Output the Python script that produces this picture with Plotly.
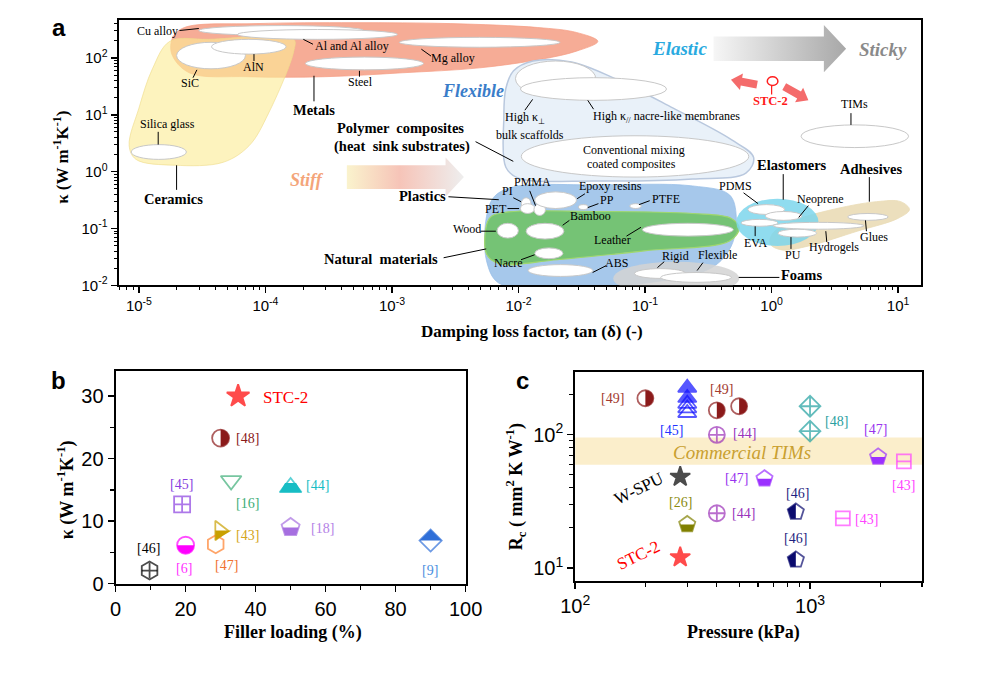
import math
import plotly.graph_objects as go

W, H = 986, 678
SERIF = "Liberation Serif"
SANS = "Liberation Sans"

# ======================= DATA =======================
# ---- Panel a : material classes (log10 tan(delta), log10 kappa) ----
metals_lt = [-4.640, -4.067, -3.301, -2.536, -1.848, -1.542, -1.373, -1.542, -1.810, -2.307, -2.919, -3.531, -4.143, -4.602, -4.740, -4.732]
metals_lk = [2.537, 2.606, 2.623, 2.606, 2.537, 2.450, 2.294, 2.121, 1.983, 1.827, 1.740, 1.671, 1.671, 1.740, 2.069, 2.364]
ceramics_lt = [-4.755, -4.449, -3.776, -3.776, -3.975, -4.128, -4.334, -4.717, -5.023, -5.077, -5.000, -4.893]
ceramics_lk = [2.294, 2.329, 2.329, 2.121, 1.030, 0.459, 0.165, 0.113, 0.216, 0.459, 1.117, 1.810]
polymer_lt = [-2.039, -1.886, -1.580, -1.236, -0.777, -0.318, -0.142, -0.203, -0.624, -1.389, -2.001, -2.100, -2.116, -2.100]
polymer_lk = [1.775, 1.948, 1.931, 1.636, 1.117, 0.563, 0.251, -0.026, -0.130, -0.165, -0.113, 0.078, 0.944, 1.463]
plastics_lt = [-2.192, -2.039, -1.389, -0.624, -0.333, -0.279, -0.318, -0.471, -1.006, -1.695, -2.154, -2.253, -2.253]
plastics_lk = [-0.442, -0.268, -0.234, -0.251, -0.407, -0.788, -1.307, -1.688, -1.965, -2.035, -1.965, -1.567, -0.788]
natural_lt = [-2.230, -2.116, -1.389, -0.624, -0.318, -0.256, -0.333, -1.006, -1.695, -2.154, -2.253]
natural_lk = [-0.823, -0.719, -0.701, -0.736, -0.823, -0.996, -1.221, -1.394, -1.550, -1.619, -1.446]
adhesives_lt = [0.004, 0.141, 0.448, 0.830, 1.021, 1.090, 0.998, 0.677, 0.295, 0.080, -0.011]
adhesives_lk = [-1.100, -0.892, -0.684, -0.528, -0.528, -0.667, -0.823, -1.048, -1.307, -1.377, -1.273]

oval_names = ["Foams", "Elastomers"]
oval_lt_lo = [-1.251, -0.279]
oval_lt_hi = [-0.256, 0.371]
oval_lk_lo = [-2.173, -1.307]
oval_lk_hi = [-1.584, -0.476]

mat_names = ["Cu alloy", "Al and Al alloy", "Mg alloy", "Steel", "SiC", "AlN", "Silica glass",
             "bulk scaffolds", "nacre-like membranes", "Conventional mixing", "PI", "PET", "PMMA",
             "Epoxy resins", "PP", "PTFE", "Wood", "Bamboo", "Leather", "Nacre", "ABS", "Rigid",
             "Flexible", "PDMS", "Neoprene", "EVA", "Hydrogels", "PU", "Glues", "TIMs"]
mat_lt_lo = [-4.526, -4.220, -2.942, -3.684, -4.702, -4.426, -5.061, -2.024, -1.985, -1.978, -1.978, -1.985, -1.878,
             -1.871, -1.526, -1.121, -2.169, -1.940, -1.021, -1.871, -1.924, -1.083, -0.876, -0.187, -0.050, -0.241,
             0.011, 0.050, 0.601, 0.233]
mat_lt_hi = [-3.225, -2.957, -1.672, -2.751, -4.158, -3.837, -4.625, -1.389, -0.830, -0.180, -1.901, -1.871, -1.787,
             -1.542, -1.450, -1.029, -2.001, -1.641, -0.302, -1.649, -1.412, -0.677, -0.318, 0.103, 0.241, 0.050,
             0.731, 0.356, 0.922, 1.083]
mat_lk_lo = [2.398, 2.329, 2.190, 1.792, 1.810, 2.069, 0.216, 1.325, 1.255, -0.095, -0.667, -0.736, -0.771,
             -0.649, -0.667, -0.649, -1.169, -1.186, -1.134, -1.532, -1.844, -1.879, -1.948, -0.753, -0.857, -0.961,
             -1.013, -1.152, -0.857, 0.424]
mat_lk_hi = [2.571, 2.502, 2.364, 2.017, 2.277, 2.329, 0.476, 1.948, 1.654, 0.632, -0.459, -0.563, -0.563,
             -0.355, -0.580, -0.563, -0.909, -0.909, -0.909, -1.342, -1.636, -1.706, -1.775, -0.580, -0.701, -0.840,
             -0.892, -1.013, -0.736, 0.823]
stc_lt = [-0.034, 0.050]
stc_lk = [1.515, 1.671]

# ---- Panel b : kappa vs filler loading ----
b_refs = ["STC-2", "[48]", "[16]", "[44]", "[45]", "[43]", "[18]", "[9]", "[6]", "[47]", "[46]"]
b_filler = [35, 30, 33, 50, 19, 29.7, 50, 90, 20, 28.6, 9.7]
b_kappa = [30.0, 23.3, 16.5, 15.4, 12.7, 8.5, 9.0, 6.9, 6.15, 6.3, 2.1]

# ---- Panel c : contact resistance vs pressure ----
c_refs = ["[49]", "[49]", "[49]", "[45]", "[45]", "[45]", "[45]", "[45]", "[44]", "[44]", "[48]", "[48]",
          "[47]", "[47]", "[43]", "[43]", "W-SPU", "[26]", "STC-2", "[46]", "[46]"]
c_pressure = [199, 401, 499, 300, 300, 300, 300, 300, 401, 401, 1000, 1000, 1950, 640, 2510, 1380, 280, 300, 280, 870, 870]
c_rc = [187, 152, 163, 224, 188, 170, 157, 145, 99.5, 25.7, 163, 106, 68, 46.7, 63, 23.5, 48.2, 21.2, 12.0, 26.3, 11.5]
tim_band = [59.3, 95.0]
tim_label_pos = [512, 73.0]

# ---- ticks ----
a_x_exp = list(range(-5, 2))
a_y_exp = list(range(-2, 3))
b_x_ticks = [0, 20, 40, 60, 80, 100]
b_y_ticks = [0, 10, 20, 30]
c_x_exp = [2, 3]
c_y_exp = [1, 2]

# ======================= STYLES =======================
b_style = [
    ("star", "#FF0000", 17, None),
    ("circle-open", "#8B1A1A", 17, "circle-right"),
    ("triangle-down-open", "#3DAE78", 18, None),
    ("triangle-up-open", "#17BDC4", 19, "triup-bottom"),
    ("square-cross-open", "#8A3FE0", 16, None),
    ("triangle-right-open", "#C9A000", 17, "triright-bottom"),
    ("pentagon-open", "#A66FE0", 19, "pent-bottom"),
    ("diamond-open", "#2F6FD8", 17, "diamond-top"),
    ("circle-open", "#FF00FF", 17, "circle-bottom"),
    ("hexagon-open", "#FF7F2A", 18, None),
    ("hexagon-open", "#000000", 18, "cross"),
]
c_style = (
    [("circle-open", "#8B1A1A", 16, "circle-right")] * 3
    + [("triangle-up", "#1010FF", 16, None)] * 2
    + [("triangle-up-open", "#1010FF", 16, None)] * 3
    + [("circle-cross-open", "#9B30B8", 16, None)] * 2
    + [("diamond-cross-open", "#20A0A0", 16, None)] * 2
    + [("pentagon-open", "#9B30FF", 17, "pent-bottom")] * 2
    + [("square-open", "#FF44FF", 14, "hline")] * 2
    + [("star", "#000000", 15, None)]
    + [("pentagon-open", "#808000", 17, "pent-bottom")]
    + [("star", "#FF0000", 15, None)]
    + [("pentagon-open", "#0A0A6E", 17, "pent-left")] * 2
)

fig = go.Figure()


def envelope(lt, lk, fill, line, lw=0.8):
    xs = [10 ** v for v in lt] + [10 ** lt[0]]
    ys = [10 ** v for v in lk] + [10 ** lk[0]]
    fig.add_trace(go.Scatter(x=xs, y=ys, xaxis="x", yaxis="y", mode="lines", fill="toself",
                             fillcolor=fill, line=dict(color=line, width=lw, shape="spline", smoothing=1.0),
                             hoverinfo="skip", showlegend=False))


envelope(metals_lt, metals_lk, "rgba(245,158,132,0.85)", "rgba(245,158,132,0.9)")
envelope(ceramics_lt, ceramics_lk, "rgba(252,236,150,0.62)", "rgba(240,220,140,0.8)")
envelope(polymer_lt, polymer_lk, "rgba(228,237,248,0.8)", "rgba(185,200,222,1)", 1.5)
envelope(plastics_lt, plastics_lk, "rgba(150,190,232,0.85)", "rgba(150,190,232,0.9)")
envelope(natural_lt, natural_lk, "rgba(112,194,104,0.9)", "rgba(160,215,110,1)", 1.2)
envelope(adhesives_lt, adhesives_lk, "rgba(234,220,182,0.9)", "rgba(234,220,182,1)")

shapes = []
oval_colors = ["rgba(212,212,212,0.85)", "rgba(125,214,236,0.85)"]
for i, nm in enumerate(oval_names):
    shapes.append(dict(type="circle", xref="x", yref="y", x0=10 ** oval_lt_lo[i], x1=10 ** oval_lt_hi[i],
                       y0=10 ** oval_lk_lo[i], y1=10 ** oval_lk_hi[i], fillcolor=oval_colors[i],
                       line=dict(width=0)))
for i, nm in enumerate(mat_names):
    shapes.append(dict(type="circle", xref="x", yref="y", x0=10 ** mat_lt_lo[i], x1=10 ** mat_lt_hi[i],
                       y0=10 ** mat_lk_lo[i], y1=10 ** mat_lk_hi[i], fillcolor="white",
                       line=dict(color="rgb(200,200,200)", width=1)))
shapes.append(dict(type="circle", xref="x", yref="y", x0=10 ** stc_lt[0], x1=10 ** stc_lt[1],
                   y0=10 ** stc_lk[0], y1=10 ** stc_lk[1], fillcolor="white", line=dict(color="#FF2020", width=1.5)))

# Commercial TIMs band (panel c)
shapes.append(dict(type="rect", xref="x3 domain", yref="y3", x0=0, x1=1, y0=tim_band[0], y1=tim_band[1],
                   fillcolor="rgba(248,224,160,0.55)", line=dict(width=0), layer="below"))


# ---------------- half filled marker helpers ----------------
def half_path(kind, size):
    r = size / 2.0
    k = 0.5523 * r
    if kind == "circle-right":
        return f"M0,{r:.2f} C{k:.2f},{r:.2f} {r:.2f},{k:.2f} {r:.2f},0 C{r:.2f},{-k:.2f} {k:.2f},{-r:.2f} 0,{-r:.2f} Z"
    if kind == "circle-bottom":
        return f"M{-r:.2f},0 C{-r:.2f},{-k:.2f} {-k:.2f},{-r:.2f} 0,{-r:.2f} C{k:.2f},{-r:.2f} {r:.2f},{-k:.2f} {r:.2f},0 Z"
    if kind == "triup-bottom":
        rt = r * 2 / math.sqrt(3)
        ym = (-0.5 * r + r * math.sqrt(2)) / 2
        return f"M{-rt:.2f},{-0.5*r:.2f} L{rt:.2f},{-0.5*r:.2f} L{rt/2:.2f},{ym:.2f} L{-rt/2:.2f},{ym:.2f} Z"
    if kind == "triright-bottom":
        rt = r * 2 / math.sqrt(3)
        rs = r * math.sqrt(2)
        return f"M{-0.5*r:.2f},0 L{rs:.2f},0 L{-0.5*r:.2f},{-rt:.2f} Z"
    if kind == "pent-bottom":
        return f"M{-0.851*r:.2f},0 L{0.851*r:.2f},0 L{0.588*r:.2f},{-0.809*r:.2f} L{-0.588*r:.2f},{-0.809*r:.2f} Z"
    if kind == "pent-left":
        return f"M0,{r:.2f} L{-0.951*r:.2f},{0.309*r:.2f} L{-0.588*r:.2f},{-0.809*r:.2f} L0,{-0.809*r:.2f} Z"
    if kind == "diamond-top":
        rd = 1.3 * r
        return f"M{-rd:.2f},0 L0,{rd:.2f} L{rd:.2f},0 Z"
    return None


def add_markers(xs, ys, styles, xa, ya):
    fig.add_trace(go.Scatter(
        x=xs, y=ys, xaxis=xa, yaxis=ya, mode="markers", hoverinfo="skip", showlegend=False, cliponaxis=False,
        marker=dict(symbol=[s[0] for s in styles], color=[s[1] for s in styles], size=[s[2] for s in styles],
                    line=dict(width=1.8, color=[s[1] for s in styles]))))
    ox, oy, osym, ocol, osz = [], [], [], [], []
    for x, y, s in zip(xs, ys, styles):
        extra = s[3]
        if extra == "cross":
            ox.append(x); oy.append(y); osym.append("cross-thin-open"); ocol.append(s[1]); osz.append(s[2] * 0.62)
        elif extra == "hline":
            ox.append(x); oy.append(y); osym.append("line-ew-open"); ocol.append(s[1]); osz.append(s[2] / 1.4)
        elif extra:
            shapes.append(dict(type="path", xref=xa, yref=ya, xsizemode="pixel", ysizemode="pixel",
                               xanchor=x, yanchor=y, path=half_path(extra, s[2]), fillcolor=s[1],
                               line=dict(width=0)))
    if ox:
        fig.add_trace(go.Scatter(x=ox, y=oy, xaxis=xa, yaxis=ya, mode="markers", hoverinfo="skip",
                                 showlegend=False,
                                 marker=dict(symbol=osym, color=ocol, size=osz, line=dict(width=1.8, color=ocol))))


add_markers(b_filler, b_kappa, b_style, "x2", "y2")
add_markers(c_pressure, c_rc, c_style, "x3", "y3")


# ---------------- decorations in pixel space (x4/y4) ----------------
def block_arrow(tail, tip, bw, hw, hl):
    dx, dy = tip[0] - tail[0], tip[1] - tail[1]
    L = math.hypot(dx, dy)
    ux, uy = dx / L, dy / L
    nx, ny = -uy, ux
    bx, by = tip[0] - ux * hl, tip[1] - uy * hl
    pts = [(tail[0] + nx * bw, tail[1] + ny * bw), (bx + nx * bw, by + ny * bw), (bx + nx * hw, by + ny * hw),
           tip, (bx - nx * hw, by - ny * hw), (bx - nx * bw, by - ny * bw), (tail[0] - nx * bw, tail[1] - ny * bw)]
    pts.append(pts[0])
    return [p[0] for p in pts], [p[1] for p in pts]


ax_, ay_ = block_arrow((722, 49.5), (859, 49.5), 12.5, 24, 23)
fig.add_trace(go.Scatter(x=ax_, y=ay_, xaxis="x4", yaxis="y4", mode="lines", fill="toself", line=dict(width=0),
                         fillgradient=dict(type="horizontal", colorscale=[[0, "rgb(246,246,246)"], [1, "rgb(168,168,168)"]]),
                         hoverinfo="skip", showlegend=False))
ax_, ay_ = block_arrow((343, 180), (464, 180), 12, 20, 19)
fig.add_trace(go.Scatter(x=ax_, y=ay_, xaxis="x4", yaxis="y4", mode="lines", fill="toself", line=dict(width=0),
                         fillgradient=dict(type="horizontal", colorscale=[[0, "rgb(250,243,205)"], [0.45, "rgb(246,196,184)"], [1, "rgb(238,238,238)"]]),
                         hoverinfo="skip", showlegend=False))
for tail, tip in [((767, 86), (740, 81)), ((795, 88), (820, 102))]:
    ax_, ay_ = block_arrow(tail, tip, 4, 8.5, 11)
    fig.add_trace(go.Scatter(x=ax_, y=ay_, xaxis="x4", yaxis="y4", mode="lines", fill="toself",
                             fillcolor="#F46B6B", line=dict(width=0), hoverinfo="skip", showlegend=False))

annotations = []


def lab(text, x, y, size=12, color="black", bold=False, italic=False, family=SERIF, angle=0):
    t = text
    if bold:
        t = f"<b>{t}</b>"
    if italic:
        t = f"<i>{t}</i>"
    annotations.append(dict(text=t, x=x, y=y, xref="x4", yref="y4", showarrow=False, xanchor="center",
                            yanchor="middle", textangle=angle, font=dict(family=family, size=size, color=color)))


small_labels = [("Cu alloy", 147, 31), ("Al and Al alloy", 348, 47), ("Mg alloy", 453, 59), ("Steel", 357, 83),
                ("SiC", 181, 84), ("AlN", 247, 68), ("Silica glass", 158, 126), ("High κ<sub>⊥</sub>", 527, 120),
                ("bulk scaffolds", 532, 137), ("High κ<sub>//</sub> nacre-like membranes", 673, 119),
                ("Conventional mixing", 640, 152), ("coated composites", 637, 167), ("PI", 509, 194),
                ("PMMA", 535, 185), ("PET", 497, 212), ("Epoxy resins", 615, 189), ("PP", 612, 203),
                ("PTFE", 673, 202), ("Wood", 467, 233), ("Bamboo", 595, 220), ("Leather", 618, 244),
                ("Nacre", 510, 267), ("ABS", 622, 267), ("Rigid", 683, 260), ("Flexible", 726, 259),
                ("PDMS", 745, 189), ("Neoprene", 833, 202), ("EVA", 765, 247), ("PU", 804, 259),
                ("Hydrogels", 846, 251), ("Glues", 888, 241), ("TIMs", 868, 106)]
for t, x, y in small_labels:
    lab(t, x, y, 12)
bold_labels = [("Metals", 309, 112), ("Ceramics", 164, 202), ("Polymer  composites", 398, 130),
               ("(heat  sink substrates)", 400, 149), ("Plastics", 421, 199), ("Natural  materials", 378, 263),
               ("Foams", 813, 280), ("Elastomers", 803, 168), ("Adhesives", 885, 172)]
for t, x, y in bold_labels:
    lab(t, x, y, 14.5, bold=True)
lab("STC-2", 781, 103, 12.5, "#FF1A1A", bold=True)
lab("Elastic", 687, 49, 19, "#2AAAE0", bold=True, italic=True)
lab("Sticky", 897, 50, 19, "#8A8A8A", bold=True, italic=True)
lab("Flexible", 473, 93, 18, "#3A7DC9", bold=True, italic=True)
lab("Stiff", 302, 183, 18, "#F4A57A", bold=True, italic=True)

leaders = [(170, 31, 190, 29), (298, 40, 308, 45), (420, 50, 430, 57), (356, 72, 356, 78), (309, 77, 309, 103),
           (188, 71, 184, 79), (247, 55, 247, 62), (148, 134, 148, 147), (167, 168, 167, 193), (476, 144, 515, 164),
           (535, 101, 527, 112), (592, 102, 598, 111), (448, 200, 500, 203), (515, 201, 523, 205),
           (532, 194, 538, 209), (509, 212, 521, 212), (589, 197, 581, 202), (592, 211, 603, 207),
           (645, 208, 656, 204), (481, 235, 497, 235), (566, 229, 573, 224), (632, 240, 647, 231),
           (523, 264, 537, 259), (597, 277, 611, 270), (443, 262, 487, 253), (664, 272, 671, 266),
           (705, 275, 711, 267), (748, 282, 790, 282), (753, 196, 768, 207), (794, 177, 794, 203),
           (820, 209, 810, 221), (765, 230, 765, 240), (802, 241, 802, 253), (838, 235, 839, 246),
           (879, 224, 880, 235), (883, 180, 883, 205), (864, 115, 864, 127)]
for x0, y0, x1, y1 in leaders:
    shapes.append(dict(type="line", xref="x4", yref="y4", x0=x0, y0=y0, x1=x1, y1=y1,
                       line=dict(color="black", width=1)))
shapes.append(dict(type="line", xref="x4", yref="y4", x0=782, y0=87, x1=782, y1=96,
                   line=dict(color="#FF1A1A", width=1.2)))

# panel b labels
b_labels = [("STC-2", 280, 404, "#FF0000", 17), ("[48]", 240, 446, "#8B1A1A", 14), ("[45]", 172, 492, "#8A3FE0", 14),
            ("[16]", 240, 512, "#3DAE78", 14), ("[44]", 313, 493, "#17BDC4", 14), ("[43]", 240, 544, "#D4A520", 14),
            ("[18]", 318, 537, "#B482E6", 14), ("[46]", 138, 558, "#000000", 14), ("[6]", 175, 578, "#FF33FF", 14),
            ("[47]", 219, 575, "#F07030", 14), ("[9]", 429, 580, "#4A8FE0", 14)]
for t, x, y, c, s in b_labels:
    lab(t, x, y, s, c)
# panel c labels
c_labels = [("[49]", 618, 405, "#A33A2F"), ("[49]", 730, 396, "#A33A2F"), ("[45]", 679, 438, "#2233FF"),
            ("[44]", 754, 441, "#9933BB"), ("[48]", 849, 428, "#2AA0A0"), ("[47]", 889, 437, "#9933EE"),
            ("[43]", 918, 493, "#FF44FF"), ("[47]", 746, 486, "#9933EE"), ("[26]", 688, 511, "#8B8B10"),
            ("[44]", 753, 522, "#9933BB"), ("[46]", 809, 502, "#1F1F80"), ("[43]", 880, 528, "#FF44FF"),
            ("[46]", 807, 547, "#1F1F80")]
for t, x, y, c in c_labels:
    lab(t, x, y, 14, c)
lab("W-SPU", 645, 497, 17, "black", angle=-26)
lab("STC-2", 644, 565, 17, "#FF0000", angle=-26)
annotations.append(dict(text="<i>Commercial TIMs</i>", x=math.log10(tim_label_pos[0]), y=math.log10(tim_label_pos[1]),
                        xref="x3", yref="y3", showarrow=False, font=dict(family=SERIF, size=19, color="#C9A030")))

# axis titles and panel letters
lab("Damping loss factor, tan (δ) (-)", 534, 337, 17, bold=True)
lab("κ (W m<sup>-1</sup>K<sup>-1</sup>)", 48, 160, 17, bold=True, angle=-90)
lab("Filler loading (%)", 287, 643, 18, bold=True)
lab("κ (W m<sup>-1</sup>K<sup>-1</sup>)", 53, 498, 18, bold=True, angle=-90)
lab("Pressure (kPa)", 753, 643, 18, bold=True)
lab("R<sub>c</sub> ( mm<sup>2</sup> K W<sup>-1</sup>)", 518, 495, 18, bold=True, angle=-90)
lab("a", 45, 28, 24, bold=True, family=SANS)
lab("b", 45, 387, 24, bold=True, family=SANS)
lab("c", 525, 387, 24, bold=True, family=SANS)


# ======================= AXES =======================
def frame(**kw):
    d = dict(showline=True, linewidth=2, linecolor="black", mirror=True, showgrid=False, zeroline=False,
             ticks="outside", tickcolor="black", tickwidth=1.5, ticklen=6)
    d.update(kw)
    return d


def logminor(lo, hi):
    return [k * 10 ** e for e in range(lo, hi) for k in range(2, 10)]


tf_a = dict(family=SANS, size=15, color="black")
tf_bc = dict(family=SANS, size=20, color="black")
layout_axes = dict(
    xaxis=frame(domain=[107 / W, 936 / W], type="log", range=[-5.161, 1.178], anchor="y",
                tickvals=[10 ** e for e in a_x_exp], ticktext=[f"10<sup>{e}</sup>" for e in a_x_exp],
                minor=dict(tickvals=logminor(-6, 2), ticks="outside", ticklen=3, tickwidth=1, tickcolor="black"),
                tickfont=tf_a),
    yaxis=frame(domain=[1 - 290 / H, 1 - 20 / H], type="log", range=[-2, 2.675], anchor="x",
                tickvals=[10 ** e for e in a_y_exp], ticktext=[f"10<sup>{e}</sup>" for e in a_y_exp],
                minor=dict(tickvals=logminor(-2, 3), ticks="outside", ticklen=3, tickwidth=1, tickcolor="black"),
                tickfont=tf_a),
    xaxis2=frame(domain=[104 / W, 465.7 / W], range=[0, 100], anchor="y2", tickvals=b_x_ticks,
                 minor=dict(dtick=10, tick0=0, ticks="outside", ticklen=4, tickwidth=1.2, tickcolor="black"),
                 tickfont=tf_bc),
    yaxis2=frame(domain=[1 - 593.3 / H, 1 - 377.3 / H], range=[0, 34], anchor="x2", tickvals=b_y_ticks,
                 minor=dict(dtick=5, tick0=0, ticks="outside", ticklen=4, tickwidth=1.2, tickcolor="black"),
                 tickfont=tf_bc),
    xaxis3=frame(domain=[579 / W, 937.7 / W], type="log", range=[2, 3.478], anchor="y3",
                 tickvals=[10 ** e for e in c_x_exp], ticktext=[f"10<sup>{e}</sup>" for e in c_x_exp],
                 minor=dict(tickvals=logminor(2, 4), ticks="outside", ticklen=4, tickwidth=1.2, tickcolor="black"),
                 tickfont=tf_bc),
    yaxis3=frame(domain=[1 - 591 / H, 1 - 377.7 / H], type="log", range=[0.899, 2.472], anchor="x3",
                 tickvals=[10 ** e for e in c_y_exp], ticktext=[f"10<sup>{e}</sup>" for e in c_y_exp],
                 minor=dict(tickvals=logminor(1, 3), ticks="outside", ticklen=4, tickwidth=1.2, tickcolor="black"),
                 tickfont=tf_bc),
    xaxis4=dict(domain=[0, 1], range=[0, W], visible=False, anchor="y4", fixedrange=True),
    yaxis4=dict(domain=[0, 1], range=[H, 0], visible=False, anchor="x4", fixedrange=True),
)

fig.update_layout(
    width=W, height=H, margin=dict(l=0, r=0, t=0, b=0), paper_bgcolor="white", plot_bgcolor="rgba(0,0,0,0)",
    showlegend=False, shapes=shapes, annotations=annotations, **layout_axes)

fig.write_html("out.html", config={"displayModeBar": False, "staticPlot": True},
               post_script="document.body.style.margin='0px';")
